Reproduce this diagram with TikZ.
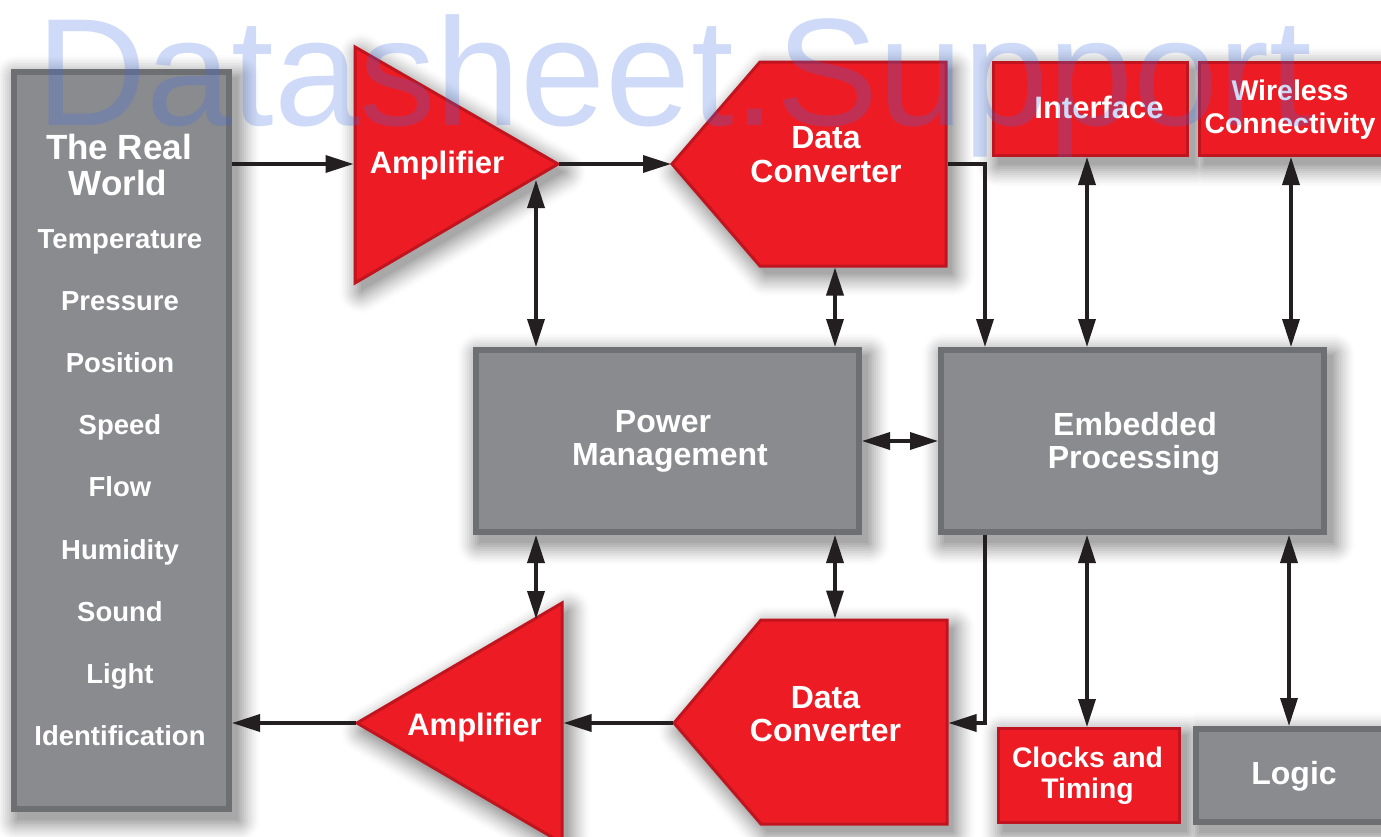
\documentclass[tikz,border=0pt]{standalone}
\usepackage{fontspec}
\setmainfont{Liberation Sans}
\usetikzlibrary{arrows.meta,calc}
\pgfdeclarelayer{bg}
\pgfsetlayers{bg,main}
\definecolor{rred}{RGB}{237,28,36}
\definecolor{rredd}{RGB}{192,20,30}
\definecolor{gfill}{RGB}{138,139,143}
\definecolor{gline}{RGB}{110,111,115}
\definecolor{wm}{RGB}{60,110,230}
\definecolor{ink}{RGB}{35,31,32}
\tikzset{
  graybox/.style={draw=gline,fill=gfill,line width=6pt,inner sep=0pt},
  redbox/.style={draw=rredd,fill=rred,line width=3pt,inner sep=0pt},
  redshape/.style={draw=rredd,fill=rred,line width=3pt,line join=miter},
  lbl/.style={text=white,inner sep=0pt,anchor=base},
  con/.style={line width=3.5pt,draw=ink,-{Triangle[length=28pt,width=17pt]}},
  bicon/.style={line width=3.5pt,draw=ink,{Triangle[length=28pt,width=17pt]}-{Triangle[length=28pt,width=17pt]}},
}
\newcommand{\fs}[1]{\bfseries\fontsize{#1}{#1}\selectfont}
% all shapes that cast a shadow; #1 is the command applied to each outline
\newcommand{\shadowpaths}[1]{%
  #1{(rw.north west) rectangle (rw.south east)}%
  #1{(pm.north west) rectangle (pm.south east)}%
  #1{(emb.north west) rectangle (emb.south east)}%
  #1{(logic.north west) rectangle (logic.south east)}%
  #1{(iface.north west) rectangle (iface.south east)}%
  #1{(wl.north west) rectangle (wl.south east)}%
  #1{(ck.north west) rectangle (ck.south east)}%
  #1{(355,47) -- (558,164) -- (355,283) -- cycle}%
  #1{(562,603) -- (357,723) -- (562,843) -- cycle}%
  #1{(672,164) -- (760,62) -- (946,62) -- (946,266) -- (760,266) -- cycle}%
  #1{(674,723) -- (761,620) -- (947,620) -- (947,824) -- (761,824) -- cycle}%
}
\newcommand{\ringpath}[1]{\draw[black!\p,line width=4*\k pt,line join=round] #1;}
\newcommand{\corepath}[1]{\fill[black!34] #1;}
\begin{document}
\begin{tikzpicture}[x=1pt,y=-1pt]
\useasboundingbox (0,0) rectangle (1381,836);

% ---------- boxes ----------
\node[graybox,minimum width=215pt,minimum height=737pt] (rw) at (121.5,440.5) {};
\node[graybox,minimum width=383pt,minimum height=182pt] (pm) at (667.5,441) {};
\node[graybox,minimum width=383pt,minimum height=182pt] (emb) at (1132.5,441) {};
\node[graybox,minimum width=230pt,minimum height=93pt] (logic) at (1311,775.5) {};
\node[redbox,minimum width=194pt,minimum height=93pt] (iface) at (1090.5,109) {};
\node[redbox,minimum width=220pt,minimum height=93pt] (wl) at (1309.5,109) {};
\node[redbox,minimum width=181pt,minimum height=94pt] (ck) at (1089,775.5) {};

% amplifiers and data converters
\path[redshape] (355,47) -- (558,164) -- (355,283) -- cycle;
\path[redshape] (562,603) -- (357,723) -- (562,843) -- cycle;
\path[redshape] (672,164) -- (760,62) -- (946,62) -- (946,266) -- (760,266) -- cycle;
\path[redshape] (674,723) -- (761,620) -- (947,620) -- (947,824) -- (761,824) -- cycle;

% ---------- soft drop shadows (behind everything) ----------
\begin{pgfonlayer}{bg}
  \fill[white] (0,0) rectangle (1381,836);
  \begin{scope}[transform canvas={shift={(6pt,-8pt)}}]
    \foreach \k in {11,10,...,1}{%
      \pgfmathsetmacro\p{32*(1-(\k-0.5)/11)^1.3}
      \shadowpaths\ringpath
    }
    \shadowpaths\corepath
  \end{scope}
\end{pgfonlayer}

% named points on those shapes
\coordinate (a1in)  at (353.5,164);
\coordinate (a1out) at (559,164);
\coordinate (a1bot) at (536,180);
\coordinate (a2in)  at (563.5,723);
\coordinate (a2out) at (356,723);
\coordinate (a2top) at (536,619);
\coordinate (d1tip) at (671,164);
\coordinate (d1r)   at (947.5,164);
\coordinate (d1bot) at (835,267.5);
\coordinate (d2tip) at (673,723);
\coordinate (d2r)   at (948.5,723);
\coordinate (d2top) at (835,618.5);

% ---------- connectors ----------
\draw[con] (rw.east |- a1in) -- (a1in);
\draw[con] (a1out) -- (d1tip);
\draw[con,line join=miter] (d1r) -| ([xshift=47pt]emb.north west);
\draw[bicon] (a1bot) -- (a1bot |- pm.north);
\draw[bicon] (d1bot) -- (d1bot |- pm.north);
\draw[bicon] ([xshift=-3.5pt]iface.south) -- ([xshift=-3.5pt]iface.south |- emb.north);
\draw[bicon] ([xshift=93pt]wl.south west) -- ([xshift=93pt]wl.south west |- emb.north);
\draw[bicon] (pm.east) -- (emb.west);
\draw[bicon] (a2top |- pm.south) -- (a2top);
\draw[bicon] (d2top |- pm.south) -- (d2top);
\draw[con,line join=miter] ([xshift=47pt]emb.south west) |- (d2r);
\draw[con] (d2tip) -- (a2in);
\draw[con] (a2out) -- (a2out -| rw.east);
\draw[bicon] ([xshift=-2pt]ck.north |- emb.south) -- ([xshift=-2pt]ck.north);
\draw[bicon] ([xshift=96pt]logic.north west |- emb.south) -- ([xshift=96pt]logic.north west);

% ---------- labels ----------
\node[lbl,font=\fs{35}] (rwt1) at (119,159) {The Real};
\node[lbl,font=\fs{35}] (rwt2) at (118,195) {World};
\foreach \t [count=\i] in {Temperature,Pressure,Position,Speed,Flow,Humidity,Sound,Light,Identification}
  \node[lbl,font=\fs{27.5}] (rwi\i) at (120,{248+62.2*(\i-1)}) {\t};

\node[lbl,font=\fs{31}] (a1l) at (437,173) {Amplifier};
\node[lbl,font=\fs{31}] (a2l) at (474.5,735) {Amplifier};
\node[lbl,font=\fs{32}] (d1l1) at (826,148) {Data};
\node[lbl,font=\fs{32}] (d1l2) at (826,182) {Converter};
\node[lbl,font=\fs{32}] (d2l1) at (825.5,708) {Data};
\node[lbl,font=\fs{32}] (d2l2) at (825.5,741) {Converter};
\node[lbl,font=\fs{32}] (pml1) at (663,432) {Power};
\node[lbl,font=\fs{32}] (pml2) at (670,465) {Management};
\node[lbl,font=\fs{32}] (eml1) at (1135,435) {Embedded};
\node[lbl,font=\fs{32}] (eml2) at (1134,468) {Processing};
\node[lbl,font=\fs{31}] (ifl) at (1099,118) {Interface};
\node[lbl,font=\fs{28.5}] (wll1) at (1290,100) {Wireless};
\node[lbl,font=\fs{28.5}] (wll2) at (1290,133) {Connectivity};
\node[lbl,font=\fs{28.3}] (ckl1) at (1087.5,767) {Clocks and};
\node[lbl,font=\fs{28.3}] (ckl2) at (1087.5,798) {Timing};
\node[lbl,font=\fs{32}] (lgl) at (1294,784) {Logic};

% ---------- watermark ----------
\node[anchor=base west,inner sep=0pt,text=wm,opacity=0.25,font=\fontsize{153}{153}\selectfont] (wmk) at (36,125) {Datasheet.Support};
\end{tikzpicture}
\end{document}
